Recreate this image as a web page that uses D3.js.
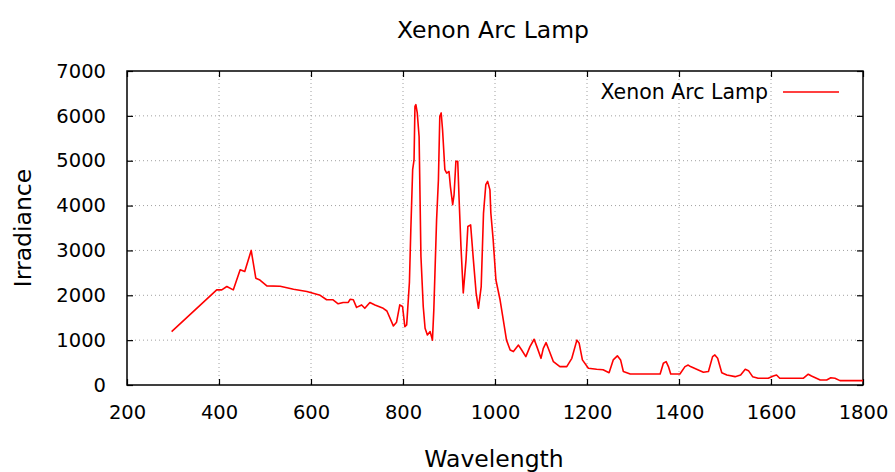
<!DOCTYPE html>
<html><head><meta charset="utf-8">
<script src="https://cdn.jsdelivr.net/npm/d3@7"></script>
<style>body{margin:0;background:#fff}svg{display:block}text{font-family:"DejaVu Sans",Verdana,sans-serif;fill:#000}</style>
</head><body>
<svg id="c" width="895" height="472"></svg>
<script>
const wavelength = [297,395,406,417,431,446,456,470,480,489,504,533,562,591,620,634,648,659,670,681,685,692,699,710,717,728,739,757,765,779,786,793,799,804,808,814,817,821,824,826,828,831,835,839,844,848,853,859,864,867,873,877,880,883,886,891,895,900,903,908,911,915,919,922,926,931,937,941,947,953,959,964,970,975,980,984,989,991,996,1002,1011,1018,1025,1033,1040,1051,1058,1067,1076,1085,1091,1100,1105,1111,1116,1127,1141,1156,1167,1178,1183,1190,1203,1221,1235,1248,1257,1266,1273,1279,1294,1359,1366,1372,1377,1382,1402,1413,1420,1425,1442,1453,1464,1473,1478,1484,1493,1504,1522,1534,1544,1551,1560,1572,1594,1605,1612,1619,1670,1681,1688,1707,1721,1730,1739,1750,1800];
const irradiance = [1190,2120,2120,2195,2120,2570,2530,3000,2380,2340,2210,2200,2135,2085,2000,1900,1900,1810,1840,1840,1910,1900,1730,1785,1710,1840,1785,1710,1650,1317,1400,1786,1750,1300,1340,2300,3460,4800,5020,6210,6250,6065,5540,2865,1750,1265,1116,1190,1000,1675,3680,4575,5990,6065,5690,4800,4725,4760,4430,4020,4240,4985,4985,4130,3090,2050,2790,3535,3570,2790,2050,1710,2195,3830,4465,4540,4350,3830,3240,2340,1900,1450,1000,780,745,890,780,633,855,1020,855,595,815,945,815,520,410,410,595,1000,930,560,372,350,340,275,560,650,560,300,245,245,485,520,410,245,245,410,445,410,335,283,300,633,670,595,275,223,186,223,350,320,186,150,150,200,223,150,150,240,200,112,112,160,150,97,97];
const xTicks = [200,400,600,800,1000,1200,1400,1600,1800];
const yTicks = [0,1000,2000,3000,4000,5000,6000,7000];
const titleText = "Xenon Arc Lamp";
const seriesName = "Xenon Arc Lamp";
const xLabel = "Wavelength";
const yLabel = "Irradiance";

const W = 895, H = 472;
const m = {left:127, right:32, top:71, bottom:87};
const svg = d3.select("#c");
const x = d3.scaleLinear().domain([200,1800]).range([m.left, W-m.right]);
const y = d3.scaleLinear().domain([0,7000]).range([H-m.bottom, m.top]);
const iw = W-m.left-m.right, ih = H-m.top-m.bottom;
const fmt = d3.format("d");

// grid
const grid = svg.append("g");
grid.selectAll("line.gx").data(xTicks.slice(1,-1)).enter().append("line")
  .attr("x1",d=>x(d)).attr("x2",d=>x(d)).attr("y1",m.top).attr("y2",H-m.bottom)
  .attr("stroke","#a0a0a0").attr("stroke-width",1).attr("stroke-dasharray","1,3");
grid.selectAll("line.gy").data(yTicks.slice(1,-1)).enter().append("line")
  .attr("y1",d=>y(d)).attr("y2",d=>y(d)).attr("x1",m.left).attr("x2",W-m.right)
  .attr("stroke","#a0a0a0").attr("stroke-width",1).attr("stroke-dasharray","1,3");

// axes (inward ticks, mirrored)
const tk = 6;
const gb = svg.append("g").attr("transform",`translate(0,${H-m.bottom})`)
  .call(d3.axisBottom(x).tickValues(xTicks).tickFormat(fmt).tickSizeInner(-tk).tickSizeOuter(0).tickPadding(20));
const gt = svg.append("g").attr("transform",`translate(0,${m.top})`)
  .call(d3.axisTop(x).tickValues(xTicks).tickSizeInner(-tk).tickSizeOuter(0).tickFormat(""));
const gl = svg.append("g").attr("transform",`translate(${m.left},0)`)
  .call(d3.axisLeft(y).tickValues(yTicks).tickFormat(fmt).tickSizeInner(-tk).tickSizeOuter(0).tickPadding(21));
const gr = svg.append("g").attr("transform",`translate(${W-m.right},0)`)
  .call(d3.axisRight(y).tickValues(yTicks).tickSizeInner(-tk).tickSizeOuter(0).tickFormat(""));
[gb,gt,gl,gr].forEach(g=>{
  g.select(".domain").remove();
  g.selectAll(".tick line").attr("stroke","#000").attr("stroke-width",1.2);
  g.selectAll("text").style("font-family","DejaVu Sans, Verdana, sans-serif").attr("font-size",19.5).attr("fill","#000");
});
gb.selectAll("text").attr("dy","0.71em");

// frame
svg.append("rect").attr("x",m.left).attr("y",m.top).attr("width",iw).attr("height",ih)
  .attr("fill","none").attr("stroke","#000").attr("stroke-width",1.5);

// line
const line = d3.line().x((d,i)=>x(wavelength[i])).y(d=>y(d));
svg.append("path").datum(irradiance).attr("d",line)
  .attr("fill","none").attr("stroke","#ff0000").attr("stroke-width",1.6).attr("stroke-linejoin","round");

// title & labels
svg.append("text").attr("x",493).attr("y",38).attr("text-anchor","middle").attr("font-size",23.5).text(titleText);
svg.append("text").attr("x",494).attr("y",467).attr("text-anchor","middle").attr("font-size",23.5).text(xLabel);
svg.append("text").attr("transform","translate(31,228) rotate(-90)").attr("text-anchor","middle").attr("font-size",23.5).text(yLabel);

// legend
svg.append("text").attr("x",768).attr("y",99).attr("text-anchor","end").attr("font-size",20.5).text(seriesName);
svg.append("line").attr("x1",783).attr("x2",839).attr("y1",92).attr("y2",92).attr("stroke","#ff0000").attr("stroke-width",1.5);
</script>
</body></html>
